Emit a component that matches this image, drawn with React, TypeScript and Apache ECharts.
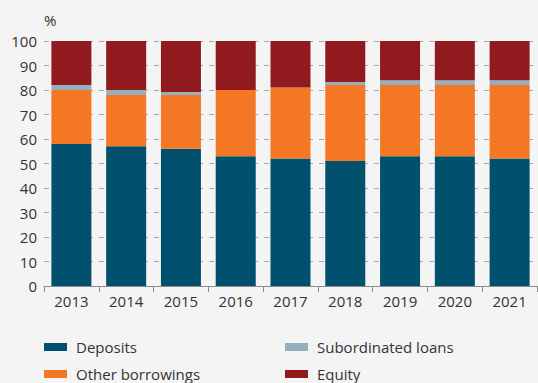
import React, { useEffect, useRef } from "react";
import * as echarts from "echarts";

const years = ["2013", "2014", "2015", "2016", "2017", "2018", "2019", "2020", "2021"];
const deposits = [58, 57, 56, 53, 52, 51, 53, 53, 52];
const otherBorrowings = [22, 21, 22, 27, 29, 31, 29, 29, 30];
const subordinatedLoans = [2, 2, 1.2, 0, 0, 1.3, 2, 2, 2];
const equity = [18, 20, 20.8, 20, 19, 16.7, 16, 16, 16];
const seriesNames = ["Deposits", "Other borrowings", "Subordinated loans", "Equity"];
const seriesColors = ["#00506e", "#f47725", "#96afbe", "#901a1e"];
const yTicks = { min: 0, max: 100, interval: 10 };

const FONT = "'Open Sans', 'Noto Sans', sans-serif";
const TEXT = "#333333";
const FS = 15;

export default function App() {
  const ref = useRef<HTMLDivElement>(null);
  useEffect(() => {
    const chart = echarts.init(ref.current!, null, { renderer: "svg" });
    const values = [deposits, otherBorrowings, subordinatedLoans, equity];
    const legendPos = [
      { x: 44, y: 347 },
      { x: 44, y: 374 },
      { x: 285, y: 347 },
      { x: 285, y: 374 },
    ];
    const legendGraphics: any[] = [];
    seriesNames.forEach((n, i) => {
      const p = legendPos[i];
      legendGraphics.push({
        type: "rect",
        shape: { x: p.x, y: p.y - 4, width: 23, height: 8 },
        style: { fill: seriesColors[i] },
        silent: true,
      });
      legendGraphics.push({
        type: "text",
        x: p.x + 32,
        y: p.y,
        style: { text: n, fill: TEXT, font: `${FS}px ${FONT}`, verticalAlign: "middle", align: "left" },
        silent: true,
      });
    });
    chart.setOption({
      animation: false,
      backgroundColor: "#f4f4f4",
      textStyle: { fontFamily: FONT },
      grid: { left: 44, right: 1, top: 41, bottom: 97 },
      graphic: legendGraphics,
      xAxis: {
        type: "category",
        data: years,
        axisLine: { lineStyle: { color: "#8a8a8a", width: 1 } },
        axisTick: { show: true, length: 6, lineStyle: { color: "#8a8a8a" } },
        axisLabel: { color: TEXT, fontSize: FS, margin: 7, fontFamily: FONT },
      },
      yAxis: {
        type: "value",
        min: yTicks.min,
        max: yTicks.max,
        interval: yTicks.interval,
        name: "%",
        nameLocation: "end",
        nameGap: 21,
        nameTextStyle: { color: TEXT, fontSize: FS, align: "left", verticalAlign: "middle", fontFamily: FONT },
        axisLine: { show: false },
        axisTick: { show: false },
        axisLabel: { color: TEXT, fontSize: FS, margin: 7, fontFamily: FONT },
        splitLine: { lineStyle: { color: "#a8a8a8", type: [5, 6], width: 1 } },
      },
      series: seriesNames.map((name, i) => ({
        name,
        type: "bar",
        stack: "total",
        data: values[i],
        barWidth: 40,
        itemStyle: { color: seriesColors[i] },
        emphasis: { disabled: true },
      })),
    });
    return () => chart.dispose();
  }, []);
  return <div ref={ref} style={{ width: 538, height: 383, position: "absolute", left: 0, top: 0 }} />;
}
